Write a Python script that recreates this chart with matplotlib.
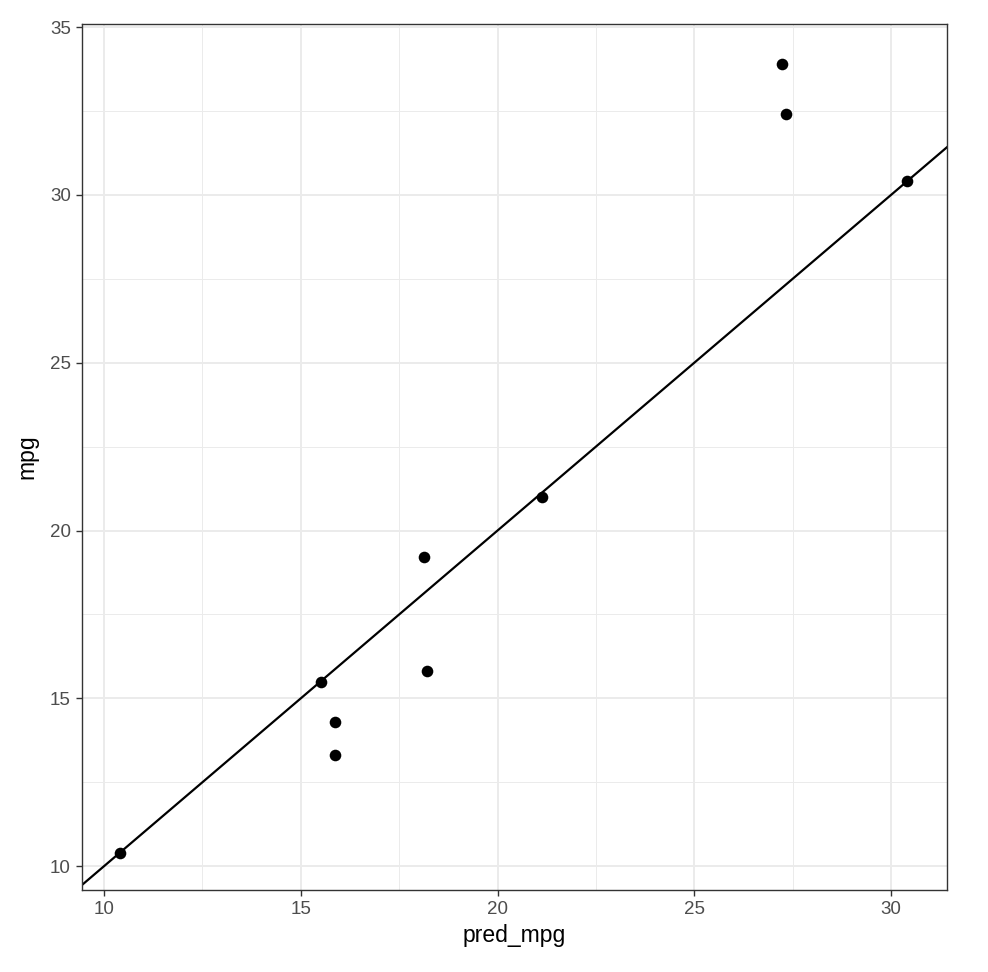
import matplotlib
matplotlib.use("Agg")
import matplotlib.pyplot as plt
import numpy as np

# predicted vs observed mpg
pred_mpg = [10.41, 15.51, 15.87, 15.87, 18.13, 18.21, 21.13, 27.23, 27.33, 30.41]
mpg = [10.4, 15.5, 14.3, 13.3, 19.2, 15.8, 21.0, 33.9, 32.4, 30.4]

x_ticks = [10, 15, 20, 25, 30]
y_ticks = [10, 15, 20, 25, 30, 35]

plt.rcParams['font.family'] = ['Liberation Sans', 'DejaVu Sans']

fig = plt.figure(figsize=(9.88, 9.72), dpi=100)
ax = fig.add_axes([82/988, 1 - 890/972, (947-82)/988, (890-24)/972])

xlim = (9.44, 31.42)
ylim = (9.29, 35.09)
ax.set_xlim(xlim)
ax.set_ylim(ylim)

# grid, theme_bw style
ax.set_xticks(x_ticks)
ax.set_yticks(y_ticks)
ax.set_xticks([12.5, 17.5, 22.5, 27.5], minor=True)
ax.set_yticks([12.5, 17.5, 22.5, 27.5, 32.5], minor=True)
ax.grid(True, which='major', color='#EBEBEB', linewidth=1.4)
ax.grid(True, which='minor', color='#EBEBEB', linewidth=0.7)
ax.set_axisbelow(True)

# identity line
xs = np.array(xlim)
ax.plot(xs, xs, color='black', linewidth=1.6, zorder=2)

ax.scatter(pred_mpg, mpg, s=70, color='black', zorder=3, linewidths=0)

for sp in ax.spines.values():
    sp.set_color('#333333')
    sp.set_linewidth(1.0)

ax.tick_params(axis='both', which='major', length=4, width=1.0, color='#333333',
               labelcolor='#4D4D4D', labelsize=13.5, pad=4)
ax.tick_params(axis='both', which='minor', length=0)

ax.set_xlabel('pred_mpg', fontsize=16.5, color='black', labelpad=4)
ax.set_ylabel('mpg', fontsize=16.5, color='black', labelpad=8)

fig.savefig('out.png', dpi=100, facecolor='white')
